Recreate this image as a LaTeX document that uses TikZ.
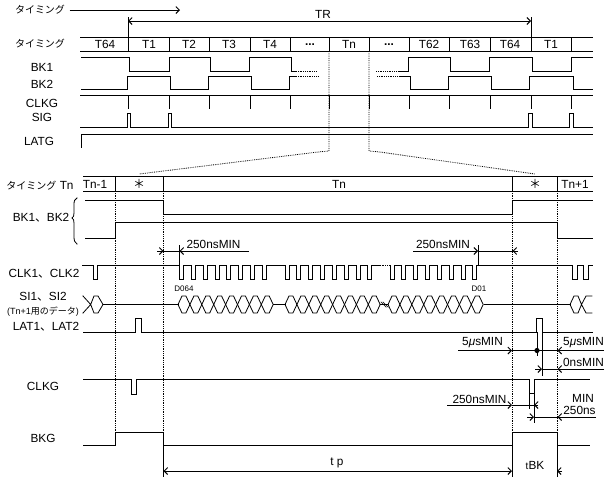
\documentclass[tikz,border=0pt]{standalone}
\usepackage{fontspec}
\usetikzlibrary{arrows.meta}
\setmainfont{Liberation Sans}
\newfontfamily\jp{Noto Sans CJK JP}
\begin{document}
\begin{tikzpicture}[x=1pt,y=-1pt,line width=1pt,line cap=rect,
  >={Straight Barb[length=3.5pt,width=7pt,line width=.9pt]},
  lbl/.style={inner sep=0pt,font=\fontsize{11.8}{12}\selectfont},
  small/.style={inner sep=0pt,font=\fontsize{8}{8}\selectfont},
  kana/.style={inner sep=0pt,font=\jp\fontsize{10}{10}\selectfont},
  dots/.style={densely dotted,line width=.8pt,line cap=butt},
  dim/.style={->,line cap=butt}]
\useasboundingbox[fill=white] (0,0) rectangle (610,480);
\node (timing0) [kana] at (40,10) {タイミング};
\node (tr) [lbl] at (323,14) {TR};
\node (timing1) [kana] at (40,44) {タイミング};
\node (bk1) [lbl] at (42,67) {BK1};
\node (bk2) [lbl] at (42,84) {BK2};
\node (clkg1) [lbl] at (42,103) {CLKG};
\node (sig) [lbl] at (42,117) {SIG};
\node (latg) [lbl] at (39,141) {LATG};
\foreach \x/\t in {105/T64,149/T1,189/T2,229/T3,270/T4,349/Tn,429/T62,470/T63,510/T64,551/T1}
  \node [lbl] at (\x,44) {\t};
\foreach \x in {310,389}
  \node [lbl] at (\x,44.5) {\textbf{...}};
\draw[dim] (timing0.east) ++(4,0) -- (180,10);
\draw[<->,line cap=butt] (128,21) -- (531,21);
\draw (128,17) -- (128,37) (531,17) -- (531,37);
\draw (80,37) -- (592,37) (80,51) -- (592,51);
\foreach \x in {128,169,209,250,290,329,369,409,449,490,531,571} {
  \draw (\x,37) -- (\x,51);
  \draw (\x,95) -- (\x,108);
}
\draw (81,57) -- (129,57) -- (129,71) -- (169,71) -- (169,57) -- (210,57) -- (210,71) -- (249,71) -- (249,57) -- (291,57) -- (291,71) -- (296,71);
\draw (400,71) -- (408,71) -- (408,57) -- (450,57) -- (450,71) -- (489,71) -- (489,57) -- (532,57) -- (532,71) -- (571,71) -- (571,57) -- (592,57);
\draw (81,89) -- (127,89) -- (127,76) -- (170,76) -- (170,89) -- (208,89) -- (208,76) -- (251,76) -- (251,89) -- (289,89) -- (289,76) -- (296,76);
\draw (400,76) -- (410,76) -- (410,89) -- (448,89) -- (448,76) -- (491,76) -- (491,89) -- (529,89) -- (529,76) -- (573,76) -- (573,89) -- (592,89);
\draw[dots] (296,71) -- (317,71) (376,71) -- (400,71) (296,76) -- (318,76) (377,76) -- (400,76);
\draw (80,95) -- (592,95);
\draw (80,127) -- (127,127) -- (127,113) -- (130.5,113) -- (130.5,127) -- (168,127) -- (168,113) -- (171.5,113) -- (171.5,127) -- (528,127) -- (528,113) -- (532.5,113) -- (532.5,127) -- (569,127) -- (569,113) -- (573,113) -- (573,127) -- (592,127);
\draw (81,147) -- (81,134) -- (592,134);
\draw[dots] (329,51) -- (329,151) -- (318,152) -- (139,174);
\draw[dots] (369,51) -- (369,151) -- (380,152) -- (535,174);
\node (timingn) [lbl] at (40,186) {{\jp\fontsize{10}{10}\selectfont タイミング}\ Tn};
\node (bk12) [lbl] at (41,218) {BK1{\jp 、}BK2};
\node (clk12) [lbl] at (44,274) {CLK1{\jp 、}CLK2};
\node (si12) [lbl] at (43,297) {SI1{\jp 、}SI2};
\node (sidata) [inner sep=0pt,font=\fontsize{9}{9}\selectfont] at (43,312) {(Tn+1{\jp 用のデータ})};
\node (lat12) [lbl] at (46,327) {LAT1{\jp 、}LAT2};
\node (clkg2) [lbl] at (43,386) {CLKG};
\node (bkg) [lbl] at (43,438) {BKG};
\node (tnm) [lbl] at (95,184) {Tn-1};
\node (star1) [kana,font=\jp\fontsize{12}{12}\selectfont] at (139,184) {＊};
\node (tn) [lbl] at (339,184) {Tn};
\node (star2) [kana,font=\jp\fontsize{12}{12}\selectfont] at (535,184) {＊};
\node (tnp) [lbl] at (575,184) {Tn+1};
\draw (83,176) -- (592,176) (83,191) -- (592,191);
\foreach \x in {115,163.5,512,557} {
  \draw (\x,176) -- (\x,191);
  \draw[dots] (\x,191) -- (\x,432);
}
\draw (85,200) -- (163.5,200) -- (163.5,214) -- (512,214) -- (512,200) -- (592,200);
\draw (85,238) -- (115,238) -- (115,222) -- (557,222) -- (557,238) -- (592,238);
\draw[line width=.8pt] (77,198) .. controls (74.5,199) and (74,201) .. (74,205) -- (74,213) .. controls (74,216) and (73.5,217) .. (72,218) .. controls (73.5,219) and (74,220) .. (74,223) -- (74,236) .. controls (74,240) and (74.5,243) .. (77,244);
\node (t250a) [lbl] at (213.5,244) {250nsMIN};
\node (t250b) [lbl] at (443,244) {250nsMIN};
\draw[dim] (157,251) -- (163.5,251);
\draw (163.5,251) -- (179.5,251);
\draw[dim] (249,251) -- (179.5,251);
\draw (179.5,245) -- (179.5,265);
\draw[dim] (413,251) -- (478,251);
\draw (478,251) -- (513,251);
\draw[dim] (518,251) -- (512.5,251);
\draw (478,245) -- (478,265);
\draw (82,265) -- (93,265) -- (93,279) -- (97,279) -- (97,265) -- (179.5,265);
\foreach \s in {179.5,285,390}
  \foreach \i in {0,...,7}
    \draw ({\s+\i*11.85},265) -- ++(0,14) -- ++(4,0) -- ++(0,-14) -- ++(7.4,0);
\draw (267,265) -- (285,265) (372,265) -- (378,265) (477,265) -- (572,265) -- (572,279) -- (577,279) -- (577,265) -- (583,265) -- (583,279) -- (588,279) -- (588,265) -- (592,265);
\draw[dots] (378,265) -- (390,265);
\node (d064) [small] at (184,289) {D064};
\node (d01) [small] at (479,289) {D01};
\draw[line width=.8pt] (83,296) -- (90.7,304.5) -- (94,296) -- (98,296) -- (103,304.5) -- (98,313) -- (94,313) -- (90.7,304.5) -- (83,313);
\foreach \s in {178,285,388}
  \foreach \i in {0,...,7}
    \draw[line width=.8pt] ({\s+\i*11.9},304.5) -- ++(4,-8.5) -- ++(3.9,0) -- ++(4,8.5) -- ++(-4,8.5) -- ++(-3.9,0) -- cycle;
\draw (103,304.5) -- (178,304.5) (273.5,304.5) -- (285,304.5) (484,304.5) -- (570,304.5);
\draw[line width=.7pt] (380,304.5) -- (388,304.5) (381,302) -- (386,307) (383,302) -- (388,307);
\draw[line width=.8pt] (570,304.5) -- (574,296) -- (578,296) -- (581.5,304.5) -- (586,296) -- (592,296) (570,304.5) -- (574,313) -- (578,313) -- (581.5,304.5) -- (586,313) -- (592,313);
\draw (83,332) -- (135.5,332) -- (135.5,318) -- (141,318) -- (141,332) -- (536,332) -- (536,318) -- (542,318) -- (542,332) -- (592,332);
\draw (537,332) -- (537,355) (542,332) -- (542,375);
\fill (537,350.5) circle (2.6pt);
\node (t5a) [lbl] at (482.5,343) {5{\itshape μ}sMIN};
\node (t5b) [lbl] at (583.5,343) {5{\itshape μ}sMIN};
\node (t0) [lbl] at (583.5,362) {0nsMIN};
\draw[dim] (458,350.5) -- (512,350.5);
\draw (512,350.5) -- (558,350.5);
\draw[dim] (604,350.5) -- (557.5,350.5);
\draw[dim] (535,369) -- (542,369);
\draw (542,369) -- (558,369);
\draw[dim] (604,369) -- (557.5,369);
\draw (83,379) -- (131,379) -- (131,394) -- (136,394) -- (136,379) -- (529.5,379) -- (529.5,393) -- (534,393) -- (534,379) -- (589,379);
\draw (529.5,393) -- (529.5,408) (534,393) -- (534,422);
\node (t250c) [lbl] at (479.5,399) {250nsMIN};
\node (tmin) [lbl] at (583,398) {MIN};
\node (t250d) [lbl] at (579.5,410) {250ns};
\draw[dim] (447,405) -- (512,405);
\draw (512,405) -- (534,405);
\draw[dim] (538,405) -- (534,405);
\draw[dim] (527,417) -- (534,417);
\draw (534,417) -- (558,417);
\draw[dim] (596,417) -- (557.5,417);
\draw (83,445) -- (115,445) -- (115,432) -- (163.5,432) -- (163.5,445) -- (512,445) -- (512,432) -- (557,432) -- (557,445) -- (589,445);
\draw (163.5,445) -- (163.5,476) (512,445) -- (512,476) (557,445) -- (557,476);
\node (tp) [lbl] at (337,463) {t p};
\node (tbk) [lbl] at (535,465) {{\fontsize{10}{10}\selectfont t}BK};
\draw[<->,line cap=butt] (163.5,471) -- (512,471);
\draw[dim] (562,471) -- (557,471);
\end{tikzpicture}
\end{document}
